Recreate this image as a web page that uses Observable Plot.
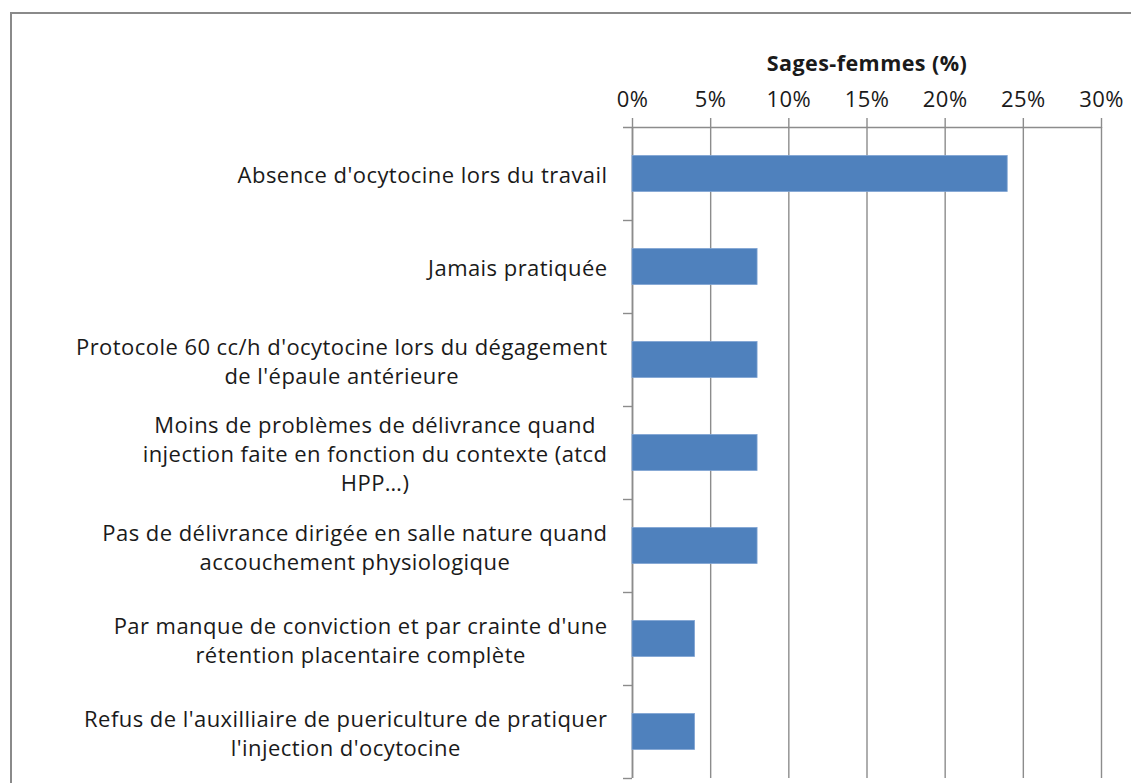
<!DOCTYPE html>
<html>
<head>
<meta charset="utf-8">
<script src="https://cdn.jsdelivr.net/npm/d3@7"></script>
<script src="https://cdn.jsdelivr.net/npm/@observablehq/plot@0.6"></script>
<style>
  html, body { margin: 0; padding: 0; background: #fff; overflow: hidden; width: 1131px; height: 783px; }
  #border { position: absolute; left: 10px; top: 12px; width: 1300px; height: 1000px; border: 2px solid #8a8a8a; box-sizing: border-box; }
  #chart { position: absolute; left: 0; top: 0; }
</style>
</head>
<body>
<div id="border"></div>
<div id="chart"></div>
<script>
const categories = [
  "Absence d'ocytocine lors du travail",
  "Jamais pratiquée",
  "Protocole 60 cc/h d'ocytocine lors du dégagement de l'épaule antérieure",
  "Moins de problèmes de délivrance quand injection faite en fonction du contexte (atcd HPP...)",
  "Pas de délivrance dirigée en salle nature quand accouchement physiologique",
  "Par manque de conviction et par crainte d'une rétention placentaire complète",
  "Refus de l'auxilliaire de puericulture de pratiquer l'injection d'ocytocine"
];
const labelLines = [
  "Absence d'ocytocine lors du travail",
  "Jamais pratiquée",
  "Protocole 60 cc/h d'ocytocine lors du dégagement\nde l'épaule antérieure",
  "Moins de problèmes de délivrance quand\ninjection faite en fonction du contexte (atcd\nHPP…)",
  "Pas de délivrance dirigée en salle nature quand\naccouchement physiologique",
  "Par manque de conviction et par crainte d'une\nrétention placentaire complète",
  "Refus de l'auxilliaire de puericulture de pratiquer\nl'injection d'ocytocine"
];
const values = [24, 8, 8, 8, 8, 4, 4];
const xTicks = [0, 5, 10, 15, 20, 25, 30];
const axisTitle = "Sages-femmes (%)";

const rows = categories.map((c, i) => ({category: c, label: labelLines[i], value: values[i]}));

const W = 1131, H = 783;
const mL = 632, mR = 30, mT = 127, mB = 5;
const step = (H - mT - mB) / categories.length;
const plotW = W - mL - mR;
const fontSize = 22;
const spacing = 0.45;
const font = "'Open Sans', sans-serif";
const gray = "#8c8c8c";
const ink = "#1a1a1a";

const ctx = document.createElement("canvas").getContext("2d");
ctx.font = `${fontSize}px 'Open Sans'`;
function blockWidth(s) { return d3.max(s.split("\n"), l => ctx.measureText(l).width + l.length * spacing); }

const labelMarks = rows.map(r => Plot.text([r], {
  y: "category", text: "label", frameAnchor: "left", textAnchor: "middle",
  dx: -(25 + blockWidth(r.label) / 2), lineHeight: 29 / fontSize, fill: ink, fontSize
}));

const chart = Plot.plot({
  width: W, height: H,
  marginLeft: mL, marginRight: mR, marginTop: mT, marginBottom: mB,
  style: {fontFamily: font, fontSize: fontSize + "px", letterSpacing: spacing + "px", color: ink, background: "transparent", overflow: "visible"},
  x: {domain: [0, 30], axis: null},
  y: {domain: categories, padding: 0, axis: null},
  marks: [
    Plot.ruleX(xTicks, {stroke: gray, strokeWidth: 1.4}),
    Plot.axisX(xTicks, {anchor: "top", label: null, tickSize: 10, tickPadding: 11, tickFormat: d => d + "%", stroke: gray, strokeWidth: 1.4, fill: ink, fontSize, strokeOpacity: 1}),
    Plot.tickY([categories[0]], {y: d => d, dy: -step / 2, insetLeft: -9, stroke: gray, strokeWidth: 1.4}),
    Plot.tickY(categories, {y: d => d, dy: step / 2, insetLeft: -9, insetRight: plotW, stroke: gray, strokeWidth: 1.4}),
    Plot.ruleX([0], {stroke: gray, strokeWidth: 1.6}),
    Plot.barX(rows, {x: "value", y: "category", fill: "#4F81BD", stroke: "#7fa3d3", strokeWidth: 0.8, insetTop: 28.5, insetBottom: 28.5}),
    ...labelMarks,
    Plot.text([axisTitle], {frameAnchor: "top", lineAnchor: "middle", dy: -63, text: d => d, fontWeight: "bold", fill: ink, fontSize: 21.5})
  ]
});
document.getElementById("chart").appendChild(chart);
</script>
</body>
</html>
